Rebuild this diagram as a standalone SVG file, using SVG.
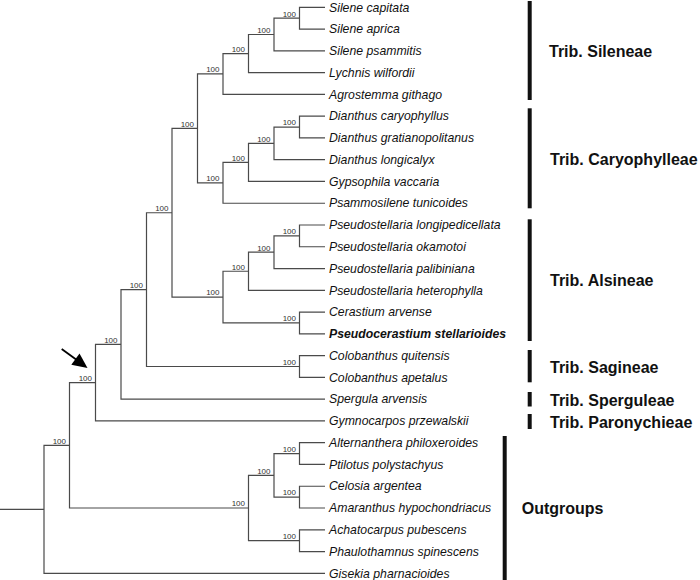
<svg xmlns="http://www.w3.org/2000/svg" width="700" height="580" viewBox="0 0 700 580">
<style>
.br{fill:none;stroke:#4a4a4a;stroke-width:1.2}
.bs{font-family:"Liberation Sans",Arial,sans-serif;font-size:8px;fill:#333;text-anchor:end}
.tx{font-family:"Liberation Sans",Arial,sans-serif;font-size:12.25px;font-style:italic;fill:#111}
.gp{font-family:"Liberation Sans",Arial,sans-serif;font-size:16px;font-weight:bold;fill:#111}
.bar{fill:#111}
</style>
<rect width="700" height="580" fill="#fff"/>
<g id="connectors">
<path class="br" d="M325 7.3H299.5V29.07H325"/>
<path class="br" d="M299.5 18.19H274V50.84H325"/>
<path class="br" d="M274 34.51H248.5V72.61H325"/>
<path class="br" d="M248.5 53.56H223V94.38H325"/>
<path class="br" d="M325 116.15H299.5V137.92H325"/>
<path class="br" d="M299.5 127.04H274V159.69H325"/>
<path class="br" d="M274 143.36H248.5V181.46H325"/>
<path class="br" d="M248.5 162.41H223V203.23H325"/>
<path class="br" d="M223 73.97H197.5V182.82H223"/>
<path class="br" d="M325 225H299.5V246.77H325"/>
<path class="br" d="M299.5 235.89H274V268.54H325"/>
<path class="br" d="M274 252.21H248.5V290.31H325"/>
<path class="br" d="M325 312.08H299.5V333.85H325"/>
<path class="br" d="M248.5 271.26H223V322.97H299.5"/>
<path class="br" d="M197.5 128.4H172V297.12H223"/>
<path class="br" d="M325 355.62H299.5V377.39H325"/>
<path class="br" d="M172 212.76H146.5V366.51H299.5"/>
<path class="br" d="M146.5 289.63H121V399.16H325"/>
<path class="br" d="M121 344.4H95.5V420.93H325"/>
<path class="br" d="M325 442.7H299.5V464.47H325"/>
<path class="br" d="M325 486.24H299.5V508.01H325"/>
<path class="br" d="M299.5 453.59H274V497.13H299.5"/>
<path class="br" d="M325 529.78H299.5V551.55H325"/>
<path class="br" d="M274 475.36H248.5V540.67H299.5"/>
<path class="br" d="M95.5 382.66H69.5V508H248.5"/>
<path class="br" d="M69.5 445.33H44V573.32H325"/>
<path class="br" d="M44 509.33H0"/>
</g>
<g id="support">
<text class="bs" x="296" y="16.5">100</text>
<text class="bs" x="270.5" y="32.8">100</text>
<text class="bs" x="245" y="51.9">100</text>
<text class="bs" x="219.5" y="72.3">100</text>
<text class="bs" x="296" y="125.4">100</text>
<text class="bs" x="270.5" y="141.7">100</text>
<text class="bs" x="245" y="160.7">100</text>
<text class="bs" x="219.5" y="181.1">100</text>
<text class="bs" x="194" y="126.7">100</text>
<text class="bs" x="296" y="234.2">100</text>
<text class="bs" x="270.5" y="250.5">100</text>
<text class="bs" x="245" y="269.6">100</text>
<text class="bs" x="296" y="321.3">100</text>
<text class="bs" x="219.5" y="295.4">100</text>
<text class="bs" x="168.5" y="211.1">100</text>
<text class="bs" x="296" y="364.8">100</text>
<text class="bs" x="143" y="287.9">100</text>
<text class="bs" x="117.5" y="342.7">100</text>
<text class="bs" x="92" y="381">100</text>
<text class="bs" x="296" y="451.9">100</text>
<text class="bs" x="296" y="495.4">100</text>
<text class="bs" x="270.5" y="473.7">100</text>
<text class="bs" x="296" y="539">100</text>
<text class="bs" x="245" y="506.3">100</text>
<text class="bs" x="66" y="443.6">100</text>
</g>
<g id="arrow">
<line x1="61.7" y1="349" x2="76.5" y2="359.8" stroke="#000" stroke-width="1.8"/>
<polygon points="87.5,368 71.3,364.8 79.5,353.5" fill="#000"/>
</g>
<g id="taxa">
<text class="tx" x="329" y="11.5">Silene capitata</text>
<text class="tx" x="329" y="33.3">Silene aprica</text>
<text class="tx" x="329" y="55">Silene psammitis</text>
<text class="tx" x="329" y="76.8">Lychnis wilfordii</text>
<text class="tx" x="329" y="98.6">Agrostemma githago</text>
<text class="tx" x="329" y="120.4">Dianthus caryophyllus</text>
<text class="tx" x="329" y="142.1">Dianthus gratianopolitanus</text>
<text class="tx" x="329" y="163.9">Dianthus longicalyx</text>
<text class="tx" x="329" y="185.7">Gypsophila vaccaria</text>
<text class="tx" x="329" y="207.4">Psammosilene tunicoides</text>
<text class="tx" x="329" y="229.2">Pseudostellaria longipedicellata</text>
<text class="tx" x="329" y="251">Pseudostellaria okamotoi</text>
<text class="tx" x="329" y="272.7">Pseudostellaria palibiniana</text>
<text class="tx" x="329" y="294.5">Pseudostellaria heterophylla</text>
<text class="tx" x="329" y="316.3">Cerastium arvense</text>
<text class="tx" x="329" y="338" font-weight="bold">Pseudocerastium stellarioides</text>
<text class="tx" x="329" y="359.8">Colobanthus quitensis</text>
<text class="tx" x="329" y="381.6">Colobanthus apetalus</text>
<text class="tx" x="329" y="403.4">Spergula arvensis</text>
<text class="tx" x="329" y="425.1">Gymnocarpos przewalskii</text>
<text class="tx" x="329" y="446.9">Alternanthera philoxeroides</text>
<text class="tx" x="329" y="468.7">Ptilotus polystachyus</text>
<text class="tx" x="329" y="490.4">Celosia argentea</text>
<text class="tx" x="329" y="512.2">Amaranthus hypochondriacus</text>
<text class="tx" x="329" y="534">Achatocarpus pubescens</text>
<text class="tx" x="329" y="555.7">Phaulothamnus spinescens</text>
<text class="tx" x="329" y="577.5">Gisekia pharnacioides</text>
</g>
<g id="groups">
<rect class="bar" x="527.7" y="1" width="4" height="99"/>
<text class="gp" x="549" y="56.5">Trib. Sileneae</text>
<rect class="bar" x="527.7" y="108.3" width="4" height="100"/>
<text class="gp" x="550" y="164.8">Trib. Caryophylleae</text>
<rect class="bar" x="527.7" y="219.3" width="4" height="121.7"/>
<text class="gp" x="550" y="285.8">Trib. Alsineae</text>
<rect class="bar" x="527.7" y="350" width="4" height="32.3"/>
<text class="gp" x="550" y="372.5">Trib. Sagineae</text>
<rect class="bar" x="527.7" y="392" width="4" height="14.5"/>
<text class="gp" x="550" y="405.8">Trib. Sperguleae</text>
<rect class="bar" x="527.7" y="414" width="4" height="15"/>
<text class="gp" x="550" y="427.5">Trib. Paronychieae</text>
<rect class="bar" x="502.7" y="436" width="4" height="144"/>
<text class="gp" x="521.7" y="513.5">Outgroups</text>
</g>
</svg>
